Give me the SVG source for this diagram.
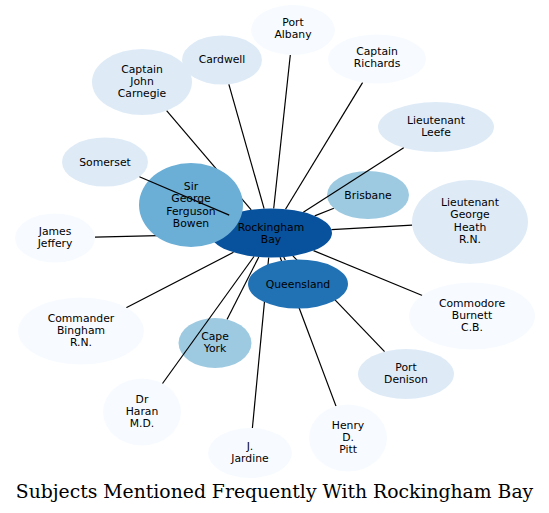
<svg xmlns="http://www.w3.org/2000/svg" width="549" height="513" viewBox="0 0 549 513">
<style>
  .e line { stroke: #000; stroke-width: 1.2; }
  .n text { font-family: "DejaVu Sans", "Liberation Sans", sans-serif; font-size: 10.8px; text-anchor: middle; fill: #000; }
  .c0 { fill: #f7fbff; }
  .c1 { fill: #deebf7; }
  .c3 { fill: #9ecae1; }
  .c4 { fill: #6baed6; }
  .c6 { fill: #2171b5; }
  .c7 { fill: #08519c; }
  .title { font-family: "DejaVu Serif", "Liberation Serif", serif; font-size: 18.8px; text-anchor: middle; fill: #000; }
</style>
<rect width="549" height="513" fill="#fff"/>
<g id="edges" class="e">
  <line x1="273.7" y1="208.5" x2="290.3" y2="55.0"/>
  <line x1="285.5" y1="209.2" x2="362.7" y2="82.4"/>
  <line x1="314.7" y1="215.9" x2="333.9" y2="208.3"/>
  <line x1="331.4" y1="229.7" x2="412.2" y2="225.2"/>
  <line x1="313.5" y1="250.6" x2="422.3" y2="295.5"/>
  <line x1="292.9" y1="255.9" x2="384.6" y2="351.6"/>
  <line x1="280.1" y1="257.2" x2="336.0" y2="406.1"/>
  <line x1="283.7" y1="257.0" x2="285.4" y2="260.3"/>
  <line x1="268.7" y1="257.5" x2="252.4" y2="428.0"/>
  <line x1="258.8" y1="257.0" x2="227.0" y2="319.4"/>
  <line x1="233.5" y1="252.3" x2="126.2" y2="307.7"/>
  <line x1="210.0" y1="234.4" x2="95.0" y2="237.1"/>
  <line x1="251.2" y1="209.8" x2="166.6" y2="110.7"/>
  <line x1="264.1" y1="208.7" x2="228.8" y2="84.1"/>
</g>
<g class="n">
  <g id="rockingham-bay"><ellipse class="c7" cx="271" cy="233" rx="61" ry="24.5"/><text x="271" y="231">Rockingham</text><text x="271" y="243">Bay</text></g>
  <g id="sir-george-ferguson-bowen"><ellipse class="c4" cx="191" cy="205" rx="52" ry="42"/><text x="191" y="190">Sir</text><text x="191" y="202">George</text><text x="191" y="215">Ferguson</text><text x="191" y="227">Bowen</text></g>
  <g id="queensland"><ellipse class="c6" cx="298" cy="284" rx="50" ry="24.5"/><text x="298" y="288">Queensland</text></g>
  <g id="brisbane"><ellipse class="c3" cx="368" cy="195" rx="41" ry="24"/><text x="368" y="199">Brisbane</text></g>
  <g id="cape-york"><ellipse class="c3" cx="215" cy="343" rx="36.5" ry="25"/><text x="215" y="340">Cape</text><text x="215" y="352">York</text></g>
  <g id="captain-john-carnegie"><ellipse class="c1" cx="142" cy="82" rx="50" ry="33"/><text x="142" y="73">Captain</text><text x="142" y="85">John</text><text x="142" y="97">Carnegie</text></g>
  <g id="cardwell"><ellipse class="c1" cx="222" cy="60" rx="40" ry="24.5"/><text x="222" y="63">Cardwell</text></g>
  <g id="somerset"><ellipse class="c1" cx="105" cy="162" rx="43" ry="24.5"/><text x="105" y="166">Somerset</text></g>
  <g id="lieutenant-leefe"><ellipse class="c1" cx="436" cy="127" rx="58" ry="25"/><text x="436" y="124">Lieutenant</text><text x="436" y="136">Leefe</text></g>
  <g id="lieutenant-george-heath"><ellipse class="c1" cx="470" cy="222" rx="58" ry="42"/><text x="470" y="206">Lieutenant</text><text x="470" y="218">George</text><text x="470" y="231">Heath</text><text x="470" y="243">R.N.</text></g>
  <g id="port-denison"><ellipse class="c1" cx="406" cy="374" rx="48" ry="25"/><text x="406" y="371">Port</text><text x="406" y="383">Denison</text></g>
  <g id="port-albany"><ellipse class="c0" cx="293" cy="30" rx="42" ry="25"/><text x="293" y="26">Port</text><text x="293" y="38">Albany</text></g>
  <g id="captain-richards"><ellipse class="c0" cx="377" cy="59" rx="49" ry="24.5"/><text x="377" y="55">Captain</text><text x="377" y="67">Richards</text></g>
  <g id="james-jeffery"><ellipse class="c0" cx="55" cy="238" rx="40" ry="24.5"/><text x="55" y="235">James</text><text x="55" y="247">Jeffery</text></g>
  <g id="commander-bingham"><ellipse class="c0" cx="81" cy="331" rx="63" ry="33.5"/><text x="81" y="322">Commander</text><text x="81" y="334">Bingham</text><text x="81" y="346">R.N.</text></g>
  <g id="dr-haran"><ellipse class="c0" cx="142" cy="412" rx="39" ry="33.5"/><text x="142" y="403">Dr</text><text x="142" y="415">Haran</text><text x="142" y="427">M.D.</text></g>
  <g id="j-jardine"><ellipse class="c0" cx="250" cy="453" rx="42" ry="25"/><text x="250" y="450">J.</text><text x="250" y="462">Jardine</text></g>
  <g id="commodore-burnett"><ellipse class="c0" cx="472" cy="316" rx="63" ry="33.5"/><text x="472" y="307">Commodore</text><text x="472" y="319">Burnett</text><text x="472" y="331">C.B.</text></g>
  <g id="henry-d-pitt"><ellipse class="c0" cx="348" cy="438" rx="39" ry="33.5"/><text x="348" y="429">Henry</text><text x="348" y="441">D.</text><text x="348" y="453">Pitt</text></g>
</g>
<g id="edges-over" class="e">
  <line x1="229.2" y1="215.1" x2="139.4" y2="176.7"/>
  <line x1="303.3" y1="212.2" x2="403.7" y2="147.8"/>
  <line x1="254.0" y1="256.5" x2="162.5" y2="383.5"/>
</g>
<text class="title" x="274.5" y="498">Subjects Mentioned Frequently With Rockingham Bay</text>
</svg>
